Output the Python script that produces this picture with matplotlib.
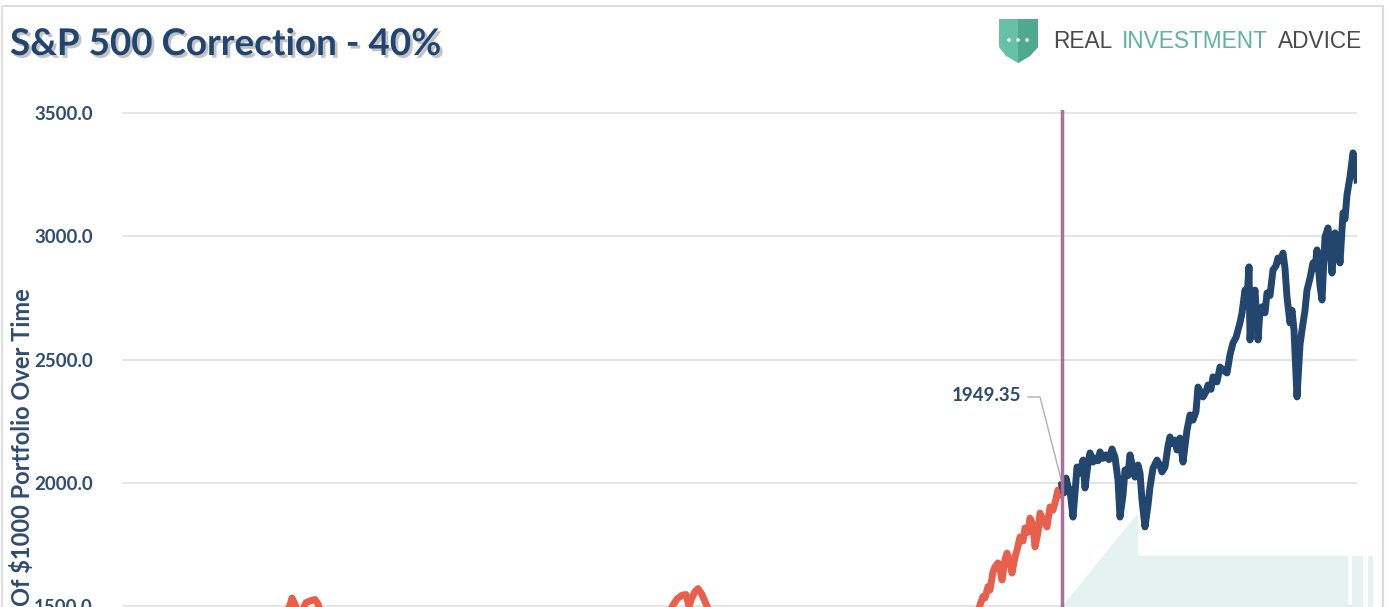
import matplotlib
matplotlib.use('Agg')
import matplotlib.pyplot as plt
import matplotlib.patheffects as pe
from matplotlib.patches import Polygon, Rectangle, Circle

plt.rcParams['font.family'] = ['Lato', 'DejaVu Sans']

# weeks since mid-1996, S&P 500 value
red_weeks = [0, 15, 30, 45, 60, 75, 90, 105, 115, 130, 145, 155, 160, 165, 168, 170, 173, 176,
             181, 184, 188, 193, 196, 199, 215, 230, 250, 270, 290, 305, 320, 335, 350, 370,
             400, 430, 460, 490, 520, 540, 548, 551, 555, 560, 564, 567, 570, 573, 576, 580,
             584, 588, 605, 625, 640, 655, 670, 690, 710, 730, 745, 765, 785, 800, 820, 840,
             855, 858, 861, 863, 866, 868, 871, 873, 876, 878, 880, 883, 885, 888, 890, 893,
             895, 898, 901, 903, 906, 908, 911, 913, 916, 918, 921, 925, 928, 931, 933, 936,
             938, 940]
red_values = [655, 720, 790, 880, 950, 1040, 1120, 1000, 1080, 1220, 1330, 1420, 1450, 1480, 1505,
              1534, 1510, 1470, 1490, 1515, 1522, 1528, 1510, 1470, 1320, 1250, 1180, 1100, 1000,
              1050, 850, 800, 880, 1000, 1120, 1180, 1210, 1270, 1380, 1440, 1480, 1505, 1530,
              1545, 1548, 1500, 1535, 1560, 1572, 1548, 1510, 1470, 1380, 1300, 1000, 850, 720,
              900, 1050, 1150, 1080, 1200, 1320, 1200, 1300, 1420, 1470, 1505, 1540, 1534, 1580,
              1566, 1640, 1660, 1676, 1650, 1607, 1690, 1716, 1680, 1635, 1700, 1728, 1781, 1765,
              1818, 1800, 1858, 1830, 1741, 1800, 1878, 1850, 1822, 1903, 1890, 1919, 1972, 1950,
              1992]

blue_weeks = [940, 942, 944, 946, 948, 951, 953, 955, 958, 961, 963, 966, 968, 971, 973, 976, 978,
              981, 984, 987, 990, 993, 996, 998, 1001, 1003, 1006, 1008, 1011, 1013, 1016, 1018,
              1020, 1023, 1026, 1028, 1031, 1035, 1038, 1040, 1043, 1046, 1048, 1050, 1053, 1055,
              1058, 1061, 1065, 1068, 1071, 1074, 1076, 1081, 1084, 1086, 1089, 1091, 1095, 1098,
              1102, 1105, 1108, 1111, 1114, 1116, 1118, 1120, 1123, 1125, 1127, 1128, 1131, 1133,
              1136, 1138, 1140, 1143, 1145, 1148, 1151, 1154, 1156, 1159, 1161, 1163, 1165, 1168,
              1170, 1172, 1175, 1178, 1180, 1183, 1185, 1188, 1191, 1193, 1195, 1198, 1200, 1203,
              1206, 1208, 1210, 1213, 1216, 1218, 1221, 1223, 1225, 1228, 1231, 1233, 1235]
blue_values = [1992, 1960, 2020, 1985, 1972, 1862, 1960, 2065, 2040, 2093, 1980, 2080, 2122, 2085,
               2101, 2090, 2126, 2100, 2114, 2095, 2138, 2105, 2012, 1862, 1951, 2053, 2030, 2114,
               2060, 2024, 2073, 2040, 1931, 1822, 1911, 1984, 2060, 2093, 2070, 2045, 2065, 2150,
               2187, 2160, 2174, 2134, 2182, 2085, 2215, 2276, 2255, 2290, 2389, 2349, 2370, 2397,
               2380, 2430, 2410, 2470, 2455, 2446, 2520, 2568, 2590, 2620, 2650, 2689, 2782, 2750,
               2876, 2580, 2742, 2782, 2580, 2700, 2714, 2690, 2770, 2760, 2864, 2880, 2912, 2900,
               2932, 2870, 2754, 2649, 2700, 2620, 2349, 2560, 2620, 2700, 2782, 2830, 2892, 2870,
               2945, 2800, 2742, 2997, 3034, 2950, 2851, 3014, 2980, 2892, 3095, 3070, 3168, 3241,
               3338, 3310, 3228]

split_week = 940
split_value = 1949.35
yticks = [1500, 2000, 2500, 3000, 3500]

W, H = 1392, 607
fig = plt.figure(figsize=(W / 100, H / 100), dpi=100)

# background layer in pixel coords: frame + logo
bg = fig.add_axes([0, 0, 1, 1], zorder=0)
bg.set_xlim(0, W)
bg.set_ylim(H, 0)
bg.axis('off')
bg.add_patch(Rectangle((2, 6), 1381, 640, fill=False, ec='#dedede', lw=1.5, clip_on=False))
bg.add_patch(Polygon([(999, 19), (1038, 19), (1038, 47), (1030, 56), (1018, 63), (1006, 56), (999, 47)],
                     closed=True, fc='#68c0a6', ec='none'))
bg.add_patch(Polygon([(1018, 19), (1038, 19), (1038, 47), (1030, 56), (1018, 63)], closed=True,
                     fc='#4ea98e', ec='none'))
for cx in (1009, 1018, 1027):
    bg.add_patch(Circle((cx, 40), 1.8, fc='white', ec='none'))

ax = fig.add_axes([122 / W, -0.0071, (1357 - 122) / W, 0.8259], zorder=1)
ax.patch.set_alpha(0)

# light teal shape behind the lines
teal = '#e4f3ef'
ax.add_patch(Polygon([(936, 1480), (1016, 1878), (1016, 1705), (1226, 1705), (1226, 1480)],
                     closed=True, fc=teal, ec='none', zorder=1))
ax.add_patch(Rectangle((1230, 1480), 11, 225, fc=teal, ec='none', zorder=1, clip_on=False))
ax.add_patch(Rectangle((1246, 1480), 5, 225, fc=teal, ec='none', zorder=1, clip_on=False))

ax.plot(red_weeks, red_values, color='#e8604c', lw=5, solid_joinstyle='round', zorder=3)
ax.plot(blue_weeks, blue_values, color='#22466e', lw=5, solid_joinstyle='round', zorder=3)
ax.axvline(split_week, color='#a8709f', lw=2.5, zorder=4)

ax.plot([906, 918, split_week], [2349, 2349, 2000], color='#b0b0b0', lw=1, zorder=2)
ax.text(899, 2353, f'{split_value:.2f}', ha='right', va='center', fontsize=13.5,
        fontweight='bold', color='#2b4a6f')

ax.set_xlim(0, 1235)
ax.set_ylim(1480, 3512)
ax.set_yticks(yticks)
ax.set_yticklabels([f'{v:.1f}' for v in yticks])
ax.yaxis.grid(True, color='#e0e0e0', lw=1.2)
ax.set_xticks([])
ax.set_axisbelow(True)
for s in ax.spines.values():
    s.set_visible(False)
ax.tick_params(axis='y', length=0, pad=21, labelsize=13.5, labelcolor='#2f4d74')
for t in ax.get_yticklabels():
    t.set_fontweight('bold')

fig.text(22 / W, 1 - 288 / H, 'Value Of $1000 Portfolio Over Time', rotation=90, ha='center',
         va='top', fontsize=17, fontweight='bold', color='#2f4d74')

fig.text(10 / W, 1 - 55 / H, 'S&P 500 Correction - 40%', ha='left', va='baseline', fontsize=26.5,
         fontweight='bold', color='#1f4570',
         path_effects=[pe.withSimplePatchShadow(offset=(2, -2), shadow_rgbFace='#555555', alpha=0.35)])

for word, x0, col in [('REAL', 1053, '#4a4a4a'), ('INVESTMENT', 1122, '#5db59b'),
                      ('ADVICE', 1278, '#4a4a4a')]:
    fig.text(x0 / W, 1 - 41.5 / H, word, ha='left', va='center', fontsize=16.3,
             family='Liberation Sans', color=col)

fig.savefig('out.png', dpi=100)
